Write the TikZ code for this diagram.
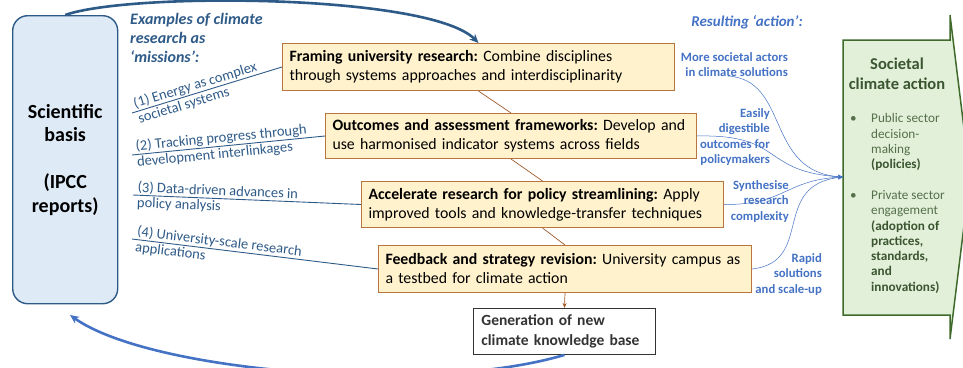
\documentclass[tikz,border=0pt]{standalone}
\usepackage{fontspec}
\setmainfont{Carlito}
\usetikzlibrary{arrows.meta}

\newcommand\fsz[2]{\fontsize{#1}{#2}\selectfont}
\frenchspacing

\definecolor{sciblue}{HTML}{2E5A88}
\definecolor{scifill}{HTML}{DEEBF7}
\definecolor{boxfill}{HTML}{FFF2CC}
\definecolor{boxedge}{HTML}{B8763E}
\definecolor{linkbrown}{HTML}{9E5A2A}
\definecolor{actblue}{HTML}{4472C4}
\definecolor{actfill}{HTML}{E2F0D9}
\definecolor{actedge}{HTML}{3F6A2B}
\definecolor{acttext}{HTML}{3A5530}
\definecolor{listtext}{HTML}{55704A}
\definecolor{gentext}{HTML}{333333}

\tikzset{
  stepbox/.style={draw=boxedge, fill=boxfill, line width=1pt, inner xsep=7pt,
    inner ysep=0pt, anchor=north west, align=left, font=\fsz{15.8}{19}},
  scibox/.style={draw=sciblue, fill=scifill, line width=1.4pt, rounded corners=15pt,
    anchor=north west, align=center, inner sep=0pt, font=\fsz{20}{23.5}\bfseries},
  genbox/.style={draw=gentext, fill=white, line width=0.9pt, inner xsep=8pt,
    inner ysep=0pt, anchor=north west, align=left, text=gentext,
    font=\fsz{15.5}{19.5}\bfseries},
  missionline/.style={draw=sciblue, line width=0.9pt},
  missiontop/.style={text=sciblue, font=\fsz{14.5}{17}, inner xsep=4pt,
    inner ysep=0.8pt, anchor=south west, sloped},
  missionbottom/.style={text=sciblue, font=\fsz{14.5}{17}, inner xsep=4pt,
    inner ysep=1.6pt, anchor=north west, sloped},
  steplink/.style={draw=linkbrown, line width=0.7pt},
  actlabel/.style={text=actblue, font=\fsz{12.7}{15.5}\bfseries, align=right,
    inner sep=0pt, anchor=north east},
  actcurve/.style={draw=actblue, line width=0.5pt,
    -{Stealth[length=5pt,width=4pt]}},
  heading/.style={font=\fsz{16}{19}\bfseries\itshape, align=left, inner sep=0pt},
}

\begin{document}
\begin{tikzpicture}[x=1pt,y=-1pt]
\useasboundingbox (0,0) rectangle (963,367);

% Scientific basis column
\node[scibox, minimum width=105pt, minimum height=288pt] (sci) at (12,15)
  {Scientific\\basis\\[23.5pt](IPCC\\reports)};

% Heading over the mission labels
\node[heading, text=sciblue, anchor=north west] (missions) at (130,13)
  {Examples of climate\\research as\\‘missions’:};

% Research steps
\node[stepbox, text width=378pt, minimum height=47pt] (frame) at (282,43)
  {\textbf{Framing university research:} Combine disciplines\\through systems approaches and interdisciplinarity};
\node[stepbox, text width=357pt, minimum height=45pt] (outc) at (325,113)
  {\textbf{Outcomes and assessment frameworks:} Develop and\\use harmonised indicator systems across fields};
\node[stepbox, text width=348pt, minimum height=46pt] (accel) at (361,181)
  {\textbf{Accelerate research for policy streamlining:} Apply\\improved tools and knowledge-transfer techniques};
\node[stepbox, text width=359pt, minimum height=47pt] (feed) at (378,245)
  {\textbf{Feedback and strategy revision:} University campus as\\a testbed for climate action};
\node[genbox, text width=166pt, minimum height=46pt] (gen) at (473,308)
  {Generation of new\\climate knowledge base};

% Links between steps
\draw[steplink] (frame.south) -- (outc.north);
\draw[steplink] (outc.south) -- (accel.north);
\draw[steplink] (accel.south) -- (feed.north);
\draw[steplink, -{Stealth[length=5pt,width=4pt]}] (feed.south) -- (gen.north);

% Mission labels written along their leader lines
\coordinate (m1) at (132,113);
\coordinate (m2) at (132,155);
\coordinate (m3) at (133,195);
\coordinate (m4) at (132,239);
\draw[missionline] (m1) -- (frame.west)
  node[missiontop, pos=0] (l1a) {(1) Energy as complex}
  node[missionbottom, pos=0] (l1b) {societal systems};
\draw[missionline] (m2) -- (outc.west)
  node[missiontop, pos=0] (l2a) {(2) Tracking progress through}
  node[missionbottom, pos=0] (l2b) {development interlinkages};
\draw[missionline] (m3) -- (accel.west)
  node[missiontop, pos=0] (l3a) {(3) Data-driven advances in}
  node[missionbottom, pos=0] (l3b) {policy analysis};
\draw[missionline] (m4) -- (feed.west)
  node[missiontop, pos=0] (l4a) {(4) University-scale research}
  node[missionbottom, pos=0] (l4b) {applications};

% Societal climate action block arrow
\draw[draw=actedge, fill=actfill, line width=1.5pt, line join=miter]
  (843,40) -- (950,40) -- (950,15) -- (970,177) -- (950,339) -- (950,315)
  -- (843,315) -- cycle;
\coordinate (actin) at (843,177);
\node[font=\fsz{16.5}{19.5}\bfseries, text=acttext, align=center, inner sep=0pt,
  anchor=north] (acttitle) at (897,58) {Societal\\climate action};
\node[font=\fsz{13.2}{15.3}, text=listtext, inner sep=0pt, anchor=north west]
  (actlist) at (850,112)
  {\renewcommand\arraystretch{1}%
   \begin{tabular}{@{}p{21pt}@{}l@{}}
   • & Public sector\\
     & decision-\\
     & making\\
     & \textbf{\color{acttext}(policies)}\\[15.3pt]
   • & Private sector\\
     & engagement\\
     & \textbf{\color{acttext}(adoption of}\\
     & \textbf{\color{acttext}practices,}\\
     & \textbf{\color{acttext}standards,}\\
     & \textbf{\color{acttext}and}\\
     & \textbf{\color{acttext}innovations)}
   \end{tabular}};

% Resulting action labels
\node[heading, text=actblue, font=\fsz{15}{18}\bfseries\itshape] (result) at (747,22)
  {Resulting ‘action’:};
\node[actlabel] (r1) at (788,52) {More societal actors\\in climate solutions};
\node[actlabel] (r2) at (770,108) {Easily\\digestible\\outcomes for\\policymakers};
\node[actlabel] (r3) at (789,180) {Synthesise\\research\\complexity};
\node[actlabel] (r4) at (822,253) {Rapid\\solutions\\and scale-up};

% Curves gathering into the action block
\coordinate (a1) at (728,76);
\draw[actcurve] (a1) .. controls (790,80) and (765,172) .. (actin);
\draw[actcurve] (outc.east) .. controls (785,134) and (760,172) .. (actin);
\draw[actcurve] (accel.east) .. controls (785,205) and (785,180) .. (actin);
\draw[actcurve] (feed.east) .. controls (815,262) and (770,185) .. (actin);

% Feedback loops
\draw[draw=sciblue, line width=2.6pt, -{Stealth[length=9pt,width=8pt]}]
  (sci.north) .. controls (130,-8) and (430,-6) .. (frame.north);
\coordinate (back) at (70,315);
\draw[draw=actblue, line width=2.6pt, -{Stealth[length=9pt,width=8pt]}]
  (gen.south) .. controls (430,395) and (150,372) .. (back);
\end{tikzpicture}
\end{document}
